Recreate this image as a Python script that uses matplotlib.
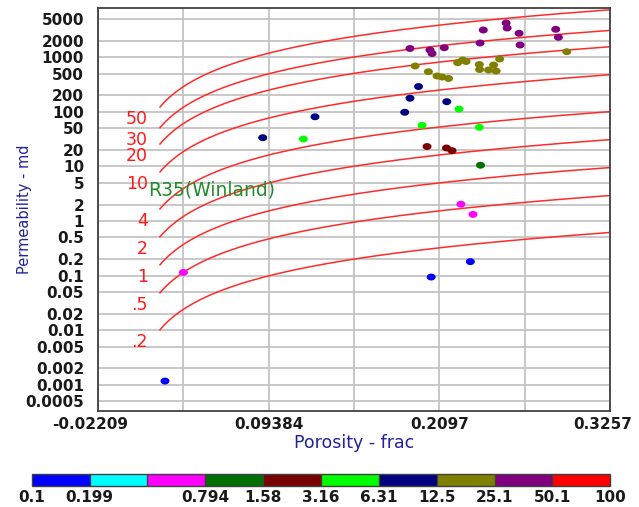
import numpy as np
import matplotlib
matplotlib.use("Agg")
import matplotlib.pyplot as plt
from matplotlib.colors import ListedColormap, BoundaryNorm
from matplotlib.cm import ScalarMappable
from matplotlib.ticker import NullLocator
from matplotlib.path import Path
from matplotlib.transforms import ScaledTranslation

# ---- core samples: porosity (fraction), permeability (md), class value ----
phi_blue = [0.0234, 0.2042, 0.2308]
k_blue = [0.00117, 0.094, 0.180]
z_blue = 0.14

phi_magenta = [0.0359, 0.2244, 0.2326]
k_magenta = [0.1145, 2.03, 1.32]
z_magenta = 0.56

phi_dkgreen = [0.2377]
k_dkgreen = [10.5]
z_dkgreen = 1.1

phi_maroon = [0.2014, 0.2146, 0.2184]
k_maroon = [23.1, 21.7, 19.4]
z_maroon = 2.2

phi_lime = [0.1174, 0.1980, 0.2231, 0.2369]
k_lime = [31.7, 56.5, 112, 51.9]
z_lime = 4.5

phi_navy = [0.0898, 0.1253, 0.1956, 0.1898, 0.1862, 0.2148]
k_navy = [33.5, 81, 290, 177, 98, 153]
z_navy = 9.0

phi_olive = [0.1933, 0.2023, 0.2082, 0.2116, 0.2160, 0.2222, 0.2256, 0.2279,
             0.2369, 0.2371, 0.2432, 0.2466, 0.2483, 0.2507, 0.2963]
k_olive = [689, 542, 452, 433, 407, 792, 887, 833,
           734, 594, 582, 719, 558, 925, 1259]
z_olive = 18.0

phi_purple = [0.2396, 0.2551, 0.2558, 0.2639, 0.2888, 0.2906, 0.1898, 0.2034,
              0.2048, 0.2131, 0.2374, 0.2646]
k_purple = [3145, 4227, 3420, 2735, 3238, 2310, 1442, 1353,
            1167, 1490, 1817, 1670]
z_purple = 35.0

# ---- Winland R35 iso-lines ----
r35_levels = [0.2, 0.5, 1, 2, 4, 10, 20, 30, 50]
r35_labels = [".2", ".5", "1", "2", "4", "10", "20", "30", "50"]

# ---- colour scale ----
class_bounds = [0.1, 0.1995, 0.398, 0.794, 1.585, 3.162, 6.31, 12.59, 25.1, 50.1, 100]
class_labels = ["0.1", "0.199", "", "0.794", "1.58", "3.16", "6.31", "12.5", "25.1", "50.1", "100"]
class_colors = ["#0000ff", "#00ffff", "#ff00ff", "#007000", "#780000",
                "#00ff00", "#000080", "#808000", "#800080", "#ff0000"]

# ---- axes ticks ----
x_min, x_max = -0.02209, 0.3257
x_grid = np.linspace(x_min, x_max, 7)
x_grid_labels = ["-0.02209", "", "0.09384", "", "0.2097", "", "0.3257"]
y_ticks = [5000, 2000, 1000, 500, 200, 100, 50, 20, 10, 5, 2, 1, 0.5, 0.2, 0.1,
           0.05, 0.02, 0.01, 0.005, 0.002, 0.001, 0.0005]
y_tick_labels = ["5000", "2000", "1000", "500", "200", "100", "50", "20", "10", "5",
                 "2", "1", "0.5", "0.2", "0.1", "0.05", "0.02", "0.01", "0.005",
                 "0.002", "0.001", "0.0005"]


def winland_k(r35, phi_frac):
    """Permeability (md) from Winland R35 and porosity (fraction)."""
    return 10 ** ((np.log10(r35) - 0.732 + 0.864 * np.log10(phi_frac * 100.0)) / 0.588)


# slightly wide elliptical dot used for the samples
_t = np.linspace(0, 2 * np.pi, 33)
dot = Path(np.column_stack([1.3 * np.cos(_t), np.sin(_t)]), closed=True)

fig = plt.figure(figsize=(6.39, 5.07), dpi=100)
ax = fig.add_axes([0.1534, 0.1903, 0.8013, 0.7949])

ax.set_yscale("log")
ax.set_xlim(x_min, x_max)
ax.set_ylim(0.000338, 8122)
ax.set_xticks(x_grid)
ax.set_xticklabels(x_grid_labels, fontweight="bold")
ax.set_yticks(y_ticks)
ax.set_yticklabels(y_tick_labels, fontweight="bold")
ax.yaxis.set_minor_locator(NullLocator())
ax.tick_params(axis="both", length=0, labelsize=11, colors="#1a1a1a")
ax.tick_params(axis="y", pad=10)
ax.tick_params(axis="x", pad=5)
ax.grid(True, color="#c4c4c4", lw=1.3, zorder=0)
ax.set_axisbelow(True)
for sp in ax.spines.values():
    sp.set_color("#404040")
    sp.set_linewidth(1.3)

# nudge the outer x labels inwards
xlabs = ax.get_xticklabels()
xlabs[0].set_transform(xlabs[0].get_transform() + ScaledTranslation(-0.08, 0, fig.dpi_scale_trans))
xlabs[-1].set_transform(xlabs[-1].get_transform() + ScaledTranslation(-0.07, 0, fig.dpi_scale_trans))

ax.set_xlabel("Porosity - frac", color="#22229a", fontsize=12.5, va="center")
ax.xaxis.set_label_coords(0.5, -0.081)
ax.set_ylabel("Permeability - md", color="#22229a", fontsize=10.5, va="center")
ax.yaxis.set_label_coords(-0.143, 0.5)

# R35 curves with their labels
phi_curve = np.linspace(0.02, x_max, 300)
for r, lab in zip(r35_levels, r35_labels):
    ax.plot(phi_curve, winland_k(r, phi_curve), color="#ff2a2a", lw=1.1, zorder=2)
    ax.annotate(lab, xy=(0.02, winland_k(r, 0.02)), xytext=(-12, -12),
                textcoords="offset pixels", ha="right", va="center",
                color="#ff1a1a", fontsize=12.5)
ax.annotate("R35(Winland)", xy=(0.02, winland_k(10, 0.02)), xytext=(-12, -18),
            textcoords="offset pixels", ha="left", va="center",
            color="#1e8c2a", fontsize=13.5)

# samples coloured by class
cmap = ListedColormap(class_colors)
norm = BoundaryNorm(class_bounds, cmap.N)
groups = [(phi_blue, k_blue, z_blue), (phi_magenta, k_magenta, z_magenta),
          (phi_dkgreen, k_dkgreen, z_dkgreen), (phi_maroon, k_maroon, z_maroon),
          (phi_lime, k_lime, z_lime), (phi_navy, k_navy, z_navy),
          (phi_olive, k_olive, z_olive), (phi_purple, k_purple, z_purple)]
phi_all = np.concatenate([g[0] for g in groups])
k_all = np.concatenate([g[1] for g in groups])
z_all = np.concatenate([[g[2]] * len(g[0]) for g in groups])
ax.scatter(phi_all, k_all, c=z_all, cmap=cmap, norm=norm, s=42, marker=dot,
           edgecolors="none", zorder=3)

# colour bar
cax = fig.add_axes([0.0496, 0.0414, 0.9055, 0.0237])
cb = fig.colorbar(ScalarMappable(norm=norm, cmap=cmap), cax=cax,
                  orientation="horizontal", ticks=class_bounds, drawedges=True,
                  spacing="uniform")
cb.outline.set_edgecolor("#404040")
cb.outline.set_linewidth(1.0)
cb.dividers.set_color("#404040")
cb.dividers.set_linewidth(1.0)
cax.set_xticklabels(class_labels, fontweight="bold")
cax.tick_params(length=0, labelsize=11, colors="#1a1a1a", pad=3)
cax.xaxis.set_minor_locator(NullLocator())

fig.savefig("out.png", dpi=100)
